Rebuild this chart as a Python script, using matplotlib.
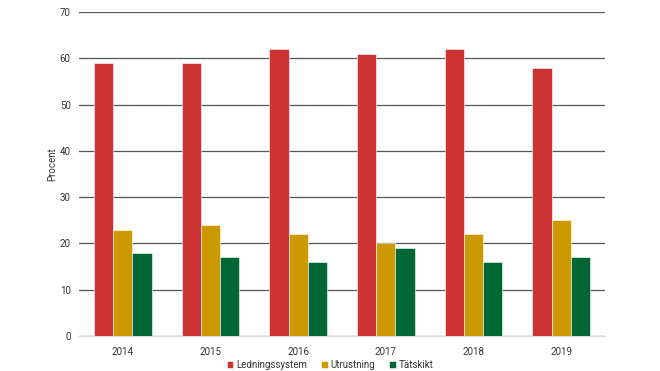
import matplotlib
matplotlib.use("Agg")
import matplotlib.pyplot as plt
import numpy as np

years = ["2014", "2015", "2016", "2017", "2018", "2019"]
ledning = [59, 59, 62, 61, 62, 58]
utrust = [23, 24, 22, 20, 22, 25]
tatskikt = [18, 17, 16, 19, 16, 17]
series_names = ["Ledningssystem", "Utrustning", "Tätskikt"]
colors = ["#CC3333", "#CC9900", "#006633"]

plt.rcParams['font.family'] = ['Roboto', 'DejaVu Sans']
fig = plt.figure(figsize=(6.6, 3.71), dpi=100)
ax = fig.add_axes([79/660, 1-336/371, (605-79)/660, (336-12)/371])

x = np.arange(len(years))
w = 0.22
for i, (vals, name, c) in enumerate(zip([ledning, utrust, tatskikt], series_names, colors)):
    ax.bar(x + (i-1)*w, vals, w, color=c, label=name, zorder=3, edgecolor='white', linewidth=0.4)

ax.set_xlim(-0.5, len(years)-0.5)
ax.set_ylim(0, 70)
ax.set_yticks(range(0, 71, 10))
ax.set_xticks(x)
ax.set_xticklabels(years)
ax.yaxis.grid(True, color='#555555', linewidth=0.9, zorder=0)
ax.set_axisbelow(True)
for s in ['top', 'right', 'left']:
    ax.spines[s].set_visible(False)
ax.spines['bottom'].set_color('#dddddd')
ax.spines['bottom'].set_linewidth(1.0)
ax.tick_params(axis='both', length=0, labelsize=7, colors='#333333', pad=8)
ax.tick_params(axis='y', pad=6)
ax.set_ylabel("Procent", fontsize=7, color='#333333', labelpad=2)
ax.get_yaxis().get_label().set_position((0, 0.53))

fig.legend(loc='center', bbox_to_anchor=(330/660, 1-365/371), ncol=3, frameon=False,
           fontsize=7, handlelength=0.7, handleheight=0.7, handletextpad=0.3,
           columnspacing=1.4, labelcolor='#333333')

fig.savefig("out.png", dpi=100)
